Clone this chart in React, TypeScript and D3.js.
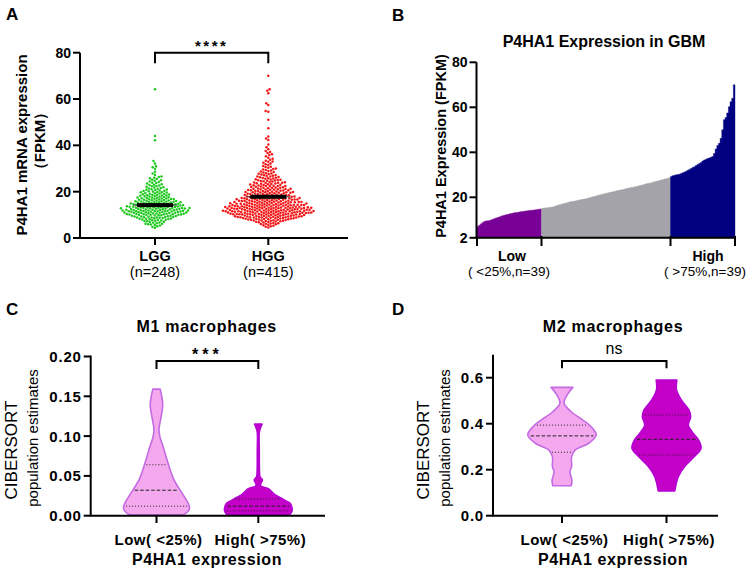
import React, { useMemo } from 'react';
import * as d3 from 'd3';

const FONT = 'Arial, "Liberation Sans", Helvetica, sans-serif';

// ---------- Panel A data ----------
const groupsA = ['LGG', 'HGG'];
const groupNsA = ['(n=248)', '(n=415)'];
const ticksA = [0, 20, 40, 60, 80];
const centerLinesA = [14.2, 17.8];
const lggValues = [
  4.4, 4.8,
  5.1, 5.4, 5.6, 5.8, 5.9,
  6.1, 6.2, 6.4, 6.6, 6.7, 6.9,
  7.0, 7.2, 7.3, 7.4, 7.6, 7.7, 7.8, 7.9,
  8.0, 8.1, 8.2, 8.3, 8.3, 8.4, 8.5, 8.6, 8.7, 8.8, 8.9, 8.9,
  9.0, 9.1, 9.1, 9.2, 9.3, 9.3, 9.4, 9.5, 9.6, 9.6, 9.7, 9.8, 9.8, 9.9, 9.9,
  10.0, 10.0, 10.1, 10.1, 10.2, 10.2, 10.3, 10.4, 10.4, 10.5, 10.5, 10.6, 10.6, 10.7, 10.8, 10.8, 10.9, 10.9, 10.9,
  11.0, 11.0, 11.1, 11.1, 11.2, 11.2, 11.3, 11.3, 11.4, 11.4, 11.5, 11.5, 11.6, 11.6, 11.7, 11.7, 11.8, 11.8, 11.9, 11.9, 11.9,
  12.0, 12.0, 12.1, 12.1, 12.2, 12.2, 12.3, 12.3, 12.4, 12.4, 12.5, 12.5, 12.6, 12.6, 12.7, 12.7, 12.8, 12.8, 12.9, 12.9, 12.9,
  13.0, 13.0, 13.1, 13.2, 13.2, 13.3, 13.4, 13.4, 13.5, 13.5, 13.6, 13.7, 13.7, 13.8, 13.8, 13.9, 13.9, 13.3, 13.6,
  14.0, 14.1, 14.1, 14.2, 14.3, 14.3, 14.4, 14.5, 14.6, 14.6, 14.7, 14.8, 14.8, 14.9, 14.9, 14.5, 14.2,
  15.0, 15.1, 15.2, 15.3, 15.3, 15.4, 15.5, 15.6, 15.6, 15.7, 15.8, 15.9, 15.9, 15.1, 15.4,
  16.0, 16.1, 16.2, 16.3, 16.4, 16.5, 16.6, 16.7, 16.8, 16.9, 16.2, 16.5, 16.8,
  17.0, 17.1, 17.3, 17.4, 17.5, 17.6, 17.7, 17.9, 17.2, 17.5, 17.8,
  18.0, 18.1, 18.3, 18.4, 18.5, 18.6, 18.8, 18.9, 18.2, 18.7,
  19.0, 19.1, 19.3, 19.4, 19.6, 19.7, 19.9, 19.2, 19.8,
  20.1, 20.2, 20.4, 20.5, 20.7, 20.8, 20.9, 20.3,
  21.1, 21.3, 21.4, 21.6, 21.8, 21.9,
  22.1, 22.3, 22.5, 22.7, 22.9,
  23.0, 23.2, 23.5, 23.7, 23.9,
  24.2, 24.4, 24.7, 24.9,
  25.1, 25.5, 25.8,
  26.0, 26.3, 26.6,
  27.2, 27.8,
  28.6, 29.9, 30.5, 31.0, 32.2, 33.2,
  42.2, 44.0, 64.2,
];
const hggValues = [
  4.5, 4.9,
  5.1, 5.3, 5.5, 5.7, 5.9,
  6.0, 6.1, 6.3, 6.4, 6.5, 6.7, 6.8, 6.9,
  7.0, 7.1, 7.2, 7.3, 7.4, 7.5, 7.6, 7.6, 7.7, 7.8, 7.9, 7.9,
  8.0, 8.0, 8.1, 8.1, 8.2, 8.3, 8.3, 8.4, 8.4, 8.5, 8.5, 8.6, 8.6, 8.7, 8.8, 8.8, 8.9, 8.9,
  9.0, 9.0, 9.0, 9.1, 9.1, 9.2, 9.2, 9.3, 9.3, 9.3, 9.4, 9.4, 9.5, 9.5, 9.5, 9.6, 9.6, 9.7, 9.7, 9.8, 9.8, 9.9, 9.9,
  10.0, 10.0, 10.1, 10.1, 10.1, 10.2, 10.2, 10.2, 10.3, 10.3, 10.4, 10.4, 10.4, 10.5, 10.5, 10.5, 10.6, 10.6, 10.7, 10.7, 10.7, 10.8, 10.8, 10.9, 10.9, 10.9,
  11.0, 11.0, 11.0, 11.1, 11.1, 11.1, 11.2, 11.2, 11.2, 11.3, 11.3, 11.3, 11.4, 11.4, 11.4, 11.5, 11.5, 11.5, 11.6, 11.6, 11.6, 11.7, 11.7, 11.8, 11.8, 11.8, 11.9, 11.9,
  12.0, 12.0, 12.0, 12.1, 12.1, 12.1, 12.2, 12.2, 12.2, 12.3, 12.3, 12.3, 12.4, 12.4, 12.4, 12.5, 12.5, 12.5, 12.6, 12.6, 12.6, 12.7, 12.7, 12.8, 12.8, 12.8, 12.9, 12.9,
  13.0, 13.0, 13.0, 13.1, 13.1, 13.1, 13.2, 13.2, 13.2, 13.3, 13.3, 13.3, 13.4, 13.4, 13.4, 13.5, 13.5, 13.5, 13.6, 13.6, 13.7, 13.7, 13.7, 13.8, 13.8, 13.9, 13.9,
  14.0, 14.0, 14.0, 14.1, 14.1, 14.2, 14.2, 14.2, 14.3, 14.3, 14.4, 14.4, 14.4, 14.5, 14.5, 14.6, 14.6, 14.6, 14.7, 14.7, 14.8, 14.8, 14.9, 14.9,
  15.0, 15.0, 15.1, 15.1, 15.1, 15.2, 15.2, 15.3, 15.3, 15.4, 15.4, 15.5, 15.5, 15.5, 15.6, 15.6, 15.7, 15.7, 15.8, 15.8, 15.9, 15.9,
  16.0, 16.0, 16.1, 16.1, 16.2, 16.2, 16.3, 16.3, 16.4, 16.4, 16.5, 16.5, 16.6, 16.6, 16.7, 16.7, 16.8, 16.8, 16.9, 16.9,
  17.0, 17.0, 17.1, 17.1, 17.2, 17.2, 17.3, 17.3, 17.4, 17.5, 17.5, 17.6, 17.6, 17.7, 17.7, 17.8, 17.9, 17.9,
  18.0, 18.0, 18.1, 18.1, 18.2, 18.3, 18.3, 18.4, 18.5, 18.5, 18.6, 18.7, 18.7, 18.8, 18.9, 18.9,
  19.0, 19.1, 19.1, 19.2, 19.3, 19.3, 19.4, 19.5, 19.5, 19.6, 19.7, 19.7, 19.8, 19.9, 19.9,
  20.0, 20.1, 20.2, 20.2, 20.3, 20.4, 20.4, 20.5, 20.6, 20.6, 20.7, 20.8, 20.8, 20.9,
  21.0, 21.1, 21.2, 21.3, 21.3, 21.4, 21.5, 21.6, 21.7, 21.7, 21.8, 21.9,
  22.0, 22.1, 22.2, 22.3, 22.4, 22.5, 22.5, 22.6, 22.7, 22.8, 22.9,
  23.0, 23.1, 23.2, 23.3, 23.4, 23.5, 23.6, 23.7, 23.8, 23.9,
  24.0, 24.1, 24.2, 24.4, 24.5, 24.6, 24.7, 24.8, 24.9,
  25.0, 25.2, 25.3, 25.4, 25.6, 25.7, 25.8, 25.9,
  26.0, 26.2, 26.3, 26.5, 26.6, 26.8, 26.9,
  27.1, 27.2, 27.4, 27.6, 27.7, 27.9,
  28.0, 28.3, 28.5, 28.7, 28.9,
  29.1, 29.4, 29.6, 29.8,
  30.0, 30.3, 30.6, 30.8,
  31.1, 31.5, 31.8,
  32.2, 32.5, 32.9,
  33.0, 33.4, 33.8,
  34.2, 34.7, 35.3, 35.8, 36.2, 36.7, 37.1, 37.6, 38.3, 39.2,
  40.4, 42.3, 43.0, 43.8, 47.4, 51.0, 54.5, 54.8, 57.4, 58.2, 62.5, 63.6, 64.2, 70.1,
];

// ---------- Panel B data (sorted GBM samples) ----------
const ticksB = [2, 20, 40, 60, 80];
const lowB = [
  7.0, 7.6, 8.2, 8.8, 9.2, 9.5, 9.6, 9.7, 9.9, 10.2, 10.5, 10.8, 11.0, 11.3, 11.6,
  11.8, 12.0, 12.2, 12.4, 12.6, 12.8, 12.9, 13.1, 13.2, 13.3, 13.5, 13.6, 13.7, 13.8,
  13.9, 14.0, 14.1, 14.2, 14.3, 14.4, 14.5, 14.6, 14.7, 14.8,
];
const midB = [
  15.1, 15.2, 15.3, 15.4, 15.5, 15.6, 15.7, 15.8,
  16.1, 16.4, 16.6, 16.8, 17.0, 17.2, 17.4, 17.6, 17.8, 18.0,
  18.1, 18.3, 18.4, 18.6, 18.7, 18.9, 19.0, 19.2, 19.3, 19.5,
  19.7, 19.9, 20.1, 20.3, 20.5, 20.7, 20.9, 21.1, 21.3, 21.5,
  21.7, 21.8, 22.0, 22.2, 22.4, 22.5, 22.7, 22.9, 23.0, 23.2,
  23.4, 23.5, 23.7, 23.9, 24.0, 24.2, 24.4, 24.5, 24.7, 24.8, 25.0,
  25.2, 25.4, 25.6, 25.8, 26.0, 26.2, 26.3, 26.5, 26.7, 26.9,
  27.1, 27.3, 27.5, 27.7, 27.9, 28.1, 28.3, 28.5, 28.7,
];
const highB = [
  29.3, 29.6, 29.8, 30.0, 30.1, 30.3, 30.6, 30.9,
  31.2, 31.6, 32.0, 32.4, 32.8, 33.2, 33.6,
  34.1, 34.6, 35.0, 35.5, 36.1, 36.6,
  36.9, 37.2, 37.5, 37.8, 38.1,
  39.5, 41.5, 43.0, 44.0, 46.2,
  50.0, 54.5, 55.5, 57.5,
  60.3, 62.5, 64.0, 70.0,
];

// ---------- Panel C / D data (violin profiles: [value, relative density]) ----------
const groupsCD = ['Low( <25%)', 'High( >75%)'];
const ticksC = [0, 0.05, 0.1, 0.15, 0.2];
const ticksD = [0, 0.2, 0.4, 0.6];
const m1LowProfile = [
  [0.001, 0.79], [0.004, 0.92], [0.009, 1.0], [0.0156, 0.96], [0.028, 0.78], [0.045, 0.53],
  [0.066, 0.35], [0.087, 0.2], [0.098, 0.11], [0.108, 0.075], [0.12, 0.12], [0.139, 0.19],
  [0.152, 0.15], [0.159, 0.11],
];
const m1HighProfile = [
  [0.001, 0.92], [0.005, 0.99], [0.0093, 1.0], [0.0156, 0.94], [0.019, 0.8], [0.022, 0.68],
  [0.026, 0.5], [0.03, 0.4], [0.034, 0.3], [0.0375, 0.07], [0.041, 0.08], [0.045, 0.12],
  [0.049, 0.05], [0.055, 0.035], [0.08, 0.03], [0.105, 0.03], [0.11, 0.06], [0.115, 0.11],
];
const m1LowQuartiles = [0.012, 0.032, 0.064];
const m1HighQuartiles = [0.006, 0.012, 0.021];
const m2LowProfile = [
  [0.13, 0.27], [0.155, 0.29], [0.191, 0.23], [0.213, 0.28], [0.257, 0.28], [0.286, 0.39],
  [0.315, 0.78], [0.351, 1.0], [0.387, 0.85], [0.416, 0.61], [0.452, 0.27], [0.489, 0.06],
  [0.532, 0.18], [0.558, 0.32],
];
const m2HighProfile = [
  [0.108, 0.24], [0.17, 0.34], [0.213, 0.52], [0.257, 0.81], [0.293, 1.0], [0.329, 0.93],
  [0.365, 0.74], [0.394, 0.63], [0.43, 0.7], [0.46, 0.65], [0.503, 0.43], [0.547, 0.29],
  [0.59, 0.3],
];
const m2LowQuartiles = [0.276, 0.347, 0.394];
const m2HighQuartiles = [0.264, 0.332, 0.438];

// ---------- helpers ----------
function swarm(values: number[], y: (v: number) => number, D: number) {
  const pts = values.map((v) => ({ v, y: y(v), x: 0 })).sort((a, b) => a.v - b.v);
  const placed: { x: number; y: number }[] = [];
  for (const p of pts) {
    const iv: [number, number][] = [];
    for (const q of placed) {
      const dy = Math.abs(q.y - p.y);
      if (dy < D) {
        const s = Math.sqrt(D * D - dy * dy);
        iv.push([q.x - s, q.x + s]);
      }
    }
    const cands = [0];
    iv.forEach(([a, b]) => cands.push(a, b));
    cands.sort((a, b) => Math.abs(a) - Math.abs(b));
    let best = 0;
    for (const c of cands) {
      if (iv.every(([a, b]) => c <= a + 1e-6 || c >= b - 1e-6)) {
        best = c;
        break;
      }
    }
    p.x = best;
    placed.push(p);
  }
  return pts;
}

const tickStyle = { fontFamily: FONT, fontWeight: 700 as const };

function YAxis({ scale, ticks, x, top, bottom, fmt, size, spacing = 0 }: any) {
  return (
    <g>
      <line x1={x} x2={x} y1={top} y2={bottom} stroke="#000" strokeWidth={2} />
      {ticks.map((t: number) => (
        <g key={t}>
          <line x1={x - 7} x2={x} y1={scale(t)} y2={scale(t)} stroke="#000" strokeWidth={2} />
          <text x={x - 9} y={scale(t)} dy="0.36em" textAnchor="end" fontSize={size} letterSpacing={spacing} style={tickStyle}>
            {fmt(t)}
          </text>
        </g>
      ))}
    </g>
  );
}

function Violin({ profile, quartiles, cx, y, maxHalf, fill, stroke }: any) {
  const w = d3.scaleLinear().domain([0, 1]).range([0, maxHalf]);
  const area = d3
    .area<number[]>()
    .curve(d3.curveCatmullRom.alpha(0.5))
    .y((d) => y(d[0]))
    .x0((d) => cx - w(d[1]))
    .x1((d) => cx + w(d[1]));
  const interp = d3
    .scaleLinear()
    .domain(profile.map((p: number[]) => p[0]))
    .range(profile.map((p: number[]) => p[1]))
    .clamp(true);
  return (
    <g>
      <path d={area(profile) || ''} fill={fill} stroke={stroke} strokeWidth={1.6} strokeLinejoin="round" />
      {quartiles.map((q: number, i: number) => {
        const hw = w(interp(q)) - 2;
        return (
          <line
            key={i}
            x1={cx - hw}
            x2={cx + hw}
            y1={y(q)}
            y2={y(q)}
            stroke="#222"
            strokeWidth={1}
            strokeDasharray={i === 1 ? '3.5,2' : '1,2'}
          />
        );
      })}
    </g>
  );
}

export default function App() {
  // ---------- Panel A ----------
  const yA = d3.scaleLinear().domain([0, 80]).range([238, 52.7]);
  const xA = d3.scalePoint<string>().domain(groupsA).range([155, 268.3]);
  const swarms = useMemo(
    () => [swarm(lggValues, yA, 2.75), swarm(hggValues, yA, 2.75)],
    []
  );
  const colorsA = ['#1ec81e', '#f41616'];

  // ---------- Panel B ----------
  const total = lowB.length + midB.length + highB.length;
  const xB = d3.scaleLinear().domain([0, total]).range([477, 735]);
  const yB = d3.scaleLinear().domain([2, 80]).range([237.8, 62.3]);
  const segB = [
    { vals: lowB, start: 0, c: '#780096' },
    { vals: midB, start: lowB.length, c: '#a3a3a9' },
    { vals: highB, start: lowB.length + midB.length, c: '#000080' },
  ];
  const areaB = d3
    .area<[number, number]>()
    .curve(d3.curveStepAfter)
    .x((d) => xB(d[0]))
    .y0(yB(2))
    .y1((d) => yB(d[1]));
  const xTicksB = [0, lowB.length, lowB.length + midB.length, total];

  // ---------- Panel C ----------
  const yC = d3.scaleLinear().domain([0, 0.2]).range([515.7, 356.5]);
  const xC = d3.scalePoint<string>().domain(groupsCD).range([156.5, 258.3]);
  // ---------- Panel D ----------
  const yD = d3.scaleLinear().domain([0, 0.7]).range([515.7, 354.7]);
  const xD = d3.scalePoint<string>().domain(groupsCD).range([562, 666.5]);

  const lowFill = '#f4a9ee';
  const lowStroke = '#c46ae2';
  const highFill = '#c400c8';
  const highStroke = '#b400d2';

  return (
    <svg width={753} height={571} style={{ position: 'absolute', left: 0, top: 0, background: '#fff' }} fontFamily={FONT}>
      <rect width={753} height={571} fill="#fff" />
      {/* Panel letters */}
      {[['A', 6, 19.5], ['B', 392, 20.5], ['C', 6, 315], ['D', 392, 315]].map(([t, x, y]) => (
        <text key={t as string} x={x as number} y={y as number} fontSize={17} fontWeight={700}>
          {t}
        </text>
      ))}

      {/* ================= Panel A ================= */}
      <g>
        {swarms.map((pts, gi) =>
          pts.map((p, i) => (
            <circle key={gi + '-' + i} cx={(xA(groupsA[gi]) as number) + p.x} cy={p.y} r={1.25} fill={colorsA[gi]} />
          ))
        )}
        {centerLinesA.map((m, i) => (
          <g key={i}>
            <line x1={(xA(groupsA[i]) as number) - 22} x2={(xA(groupsA[i]) as number) + 22} y1={yA(m)} y2={yA(m)} stroke="#444" strokeWidth={1} />
            <rect x={(xA(groupsA[i]) as number) - 18} y={yA(m) - 2} width={36} height={4} fill="#000" />
          </g>
        ))}
        <YAxis scale={yA} ticks={ticksA} x={80} top={52.7} bottom={238} fmt={(t: number) => String(t)} size={14} />
        <line x1={79} x2={348} y1={238} y2={238} stroke="#000" strokeWidth={2} />
        {groupsA.map((g, i) => (
          <g key={g}>
            <line x1={xA(g)} x2={xA(g)} y1={238} y2={245} stroke="#000" strokeWidth={2} />
            <text x={xA(g)} y={261} textAnchor="middle" fontSize={14.5} fontWeight={700}>{g}</text>
            <text x={xA(g)} y={277} textAnchor="middle" fontSize={14.5}>{groupNsA[i]}</text>
          </g>
        ))}
        <path d={`M${xA('LGG')},63.3V52.7H${xA('HGG')}V63.3`} fill="none" stroke="#000" strokeWidth={2} />
        <text x={(155 + 268.3) / 2} y={51} textAnchor="middle" fontSize={15} fontWeight={700} letterSpacing={2.5}>****</text>
        <text transform="translate(26.5,145) rotate(-90)" textAnchor="middle" fontSize={15} fontWeight={700}>P4HA1 mRNA expression</text>
        <text transform="translate(44.5,141) rotate(-90)" textAnchor="middle" fontSize={15} fontWeight={700}>（FPKM）</text>
      </g>

      {/* ================= Panel B ================= */}
      <g>
        <text x={604} y={47} textAnchor="middle" fontSize={16} fontWeight={700}>P4HA1 Expression in GBM</text>
        {segB.map((s, si) => {
          const pts: [number, number][] = s.vals.map((v, i) => [s.start + i, v] as [number, number]);
          pts.push([s.start + s.vals.length, s.vals[s.vals.length - 1]]);
          return <path key={si} d={areaB(pts) || ''} fill={s.c} stroke={s.c} strokeWidth={0.4} />;
        })}
        <YAxis scale={yB} ticks={ticksB} x={476.5} top={62.3} bottom={237.8} fmt={(t: number) => String(t)} size={14} />
        <line x1={475.5} x2={735.5} y1={237.8} y2={237.8} stroke="#000" strokeWidth={2} />
        {xTicksB.map((t) => (
          <line key={t} x1={xB(t)} x2={xB(t)} y1={236} y2={246} stroke="#000" strokeWidth={2} />
        ))}
        <text x={512} y={260.5} textAnchor="middle" fontSize={14} fontWeight={700}>Low</text>
        <text x={509} y={276} textAnchor="middle" fontSize={13.5}>( &lt;25%,n=39)</text>
        <text x={708} y={260.5} textAnchor="middle" fontSize={14} fontWeight={700}>High</text>
        <text x={705} y={276} textAnchor="middle" fontSize={13.5}>( &gt;75%,n=39)</text>
        <text transform="translate(446,146) rotate(-90)" textAnchor="middle" fontSize={14.5} fontWeight={700}>P4HA1 Expression (FPKM)</text>
      </g>

      {/* ================= Panel C ================= */}
      <g>
        <text x={206.7} y={331.5} textAnchor="middle" fontSize={16} fontWeight={700} letterSpacing={0.7}>M1 macrophages</text>
        <Violin profile={m1LowProfile} quartiles={m1LowQuartiles} cx={xC(groupsCD[0])} y={yC} maxHalf={33} fill={lowFill} stroke={lowStroke} />
        <Violin profile={m1HighProfile} quartiles={m1HighQuartiles} cx={xC(groupsCD[1])} y={yC} maxHalf={33.8} fill={highFill} stroke={highStroke} />
        <YAxis scale={yC} ticks={ticksC} x={90.7} top={355.5} bottom={515.7} fmt={d3.format('.2f')} size={15} spacing={0.8} />
        <line x1={89.7} x2={325} y1={515.7} y2={515.7} stroke="#000" strokeWidth={2} />
        {groupsCD.map((g) => (
          <g key={g}>
            <line x1={xC(g)} x2={xC(g)} y1={515.7} y2={523} stroke="#000" strokeWidth={2} />
            <text x={(xC(g) as number) + 2} y={545} textAnchor="middle" fontSize={15} fontWeight={700} letterSpacing={0.5}>{g}</text>
          </g>
        ))}
        <text x={207} y={565} textAnchor="middle" fontSize={16} fontWeight={700} letterSpacing={0.6}>P4HA1 expression</text>
        <path d={`M${xC(groupsCD[0])},369V361H${xC(groupsCD[1])}V369`} fill="none" stroke="#000" strokeWidth={2} />
        <text x={207.4} y={360} textAnchor="middle" fontSize={16} fontWeight={700} letterSpacing={4}>***</text>
        <text transform="translate(16.7,450) rotate(-90)" textAnchor="middle" fontSize={17}>CIBERSORT</text>
        <text transform="translate(38,438) rotate(-90)" textAnchor="middle" fontSize={15}>population estimates</text>
      </g>

      {/* ================= Panel D ================= */}
      <g>
        <text x={613} y={331.5} textAnchor="middle" fontSize={16} fontWeight={700} letterSpacing={0.7}>M2 macrophages</text>
        <Violin profile={m2LowProfile} quartiles={m2LowQuartiles} cx={xD(groupsCD[0])} y={yD} maxHalf={34.2} fill={lowFill} stroke={lowStroke} />
        <Violin profile={m2HighProfile} quartiles={m2HighQuartiles} cx={xD(groupsCD[1])} y={yD} maxHalf={34.5} fill={highFill} stroke={highStroke} />
        <YAxis scale={yD} ticks={ticksD} x={493} top={354.7} bottom={515.7} fmt={d3.format('.1f')} size={15} spacing={0.8} />
        <line x1={492} x2={718} y1={515.7} y2={515.7} stroke="#000" strokeWidth={2} />
        {groupsCD.map((g) => (
          <g key={g}>
            <line x1={xD(g)} x2={xD(g)} y1={515.7} y2={523} stroke="#000" strokeWidth={2} />
            <text x={(xD(g) as number) + 2.5} y={545} textAnchor="middle" fontSize={15} fontWeight={700} letterSpacing={0.5}>{g}</text>
          </g>
        ))}
        <text x={613} y={565} textAnchor="middle" fontSize={16} fontWeight={700} letterSpacing={0.6}>P4HA1 expression</text>
        <path d={`M${xD(groupsCD[0])},368.3V361H${xD(groupsCD[1])}V368.3`} fill="none" stroke="#000" strokeWidth={2} />
        <text x={614} y={353.5} textAnchor="middle" fontSize={16}>ns</text>
        <text transform="translate(428.7,450) rotate(-90)" textAnchor="middle" fontSize={17}>CIBERSORT</text>
        <text transform="translate(450,438) rotate(-90)" textAnchor="middle" fontSize={15}>population estimates</text>
      </g>
    </svg>
  );
}
